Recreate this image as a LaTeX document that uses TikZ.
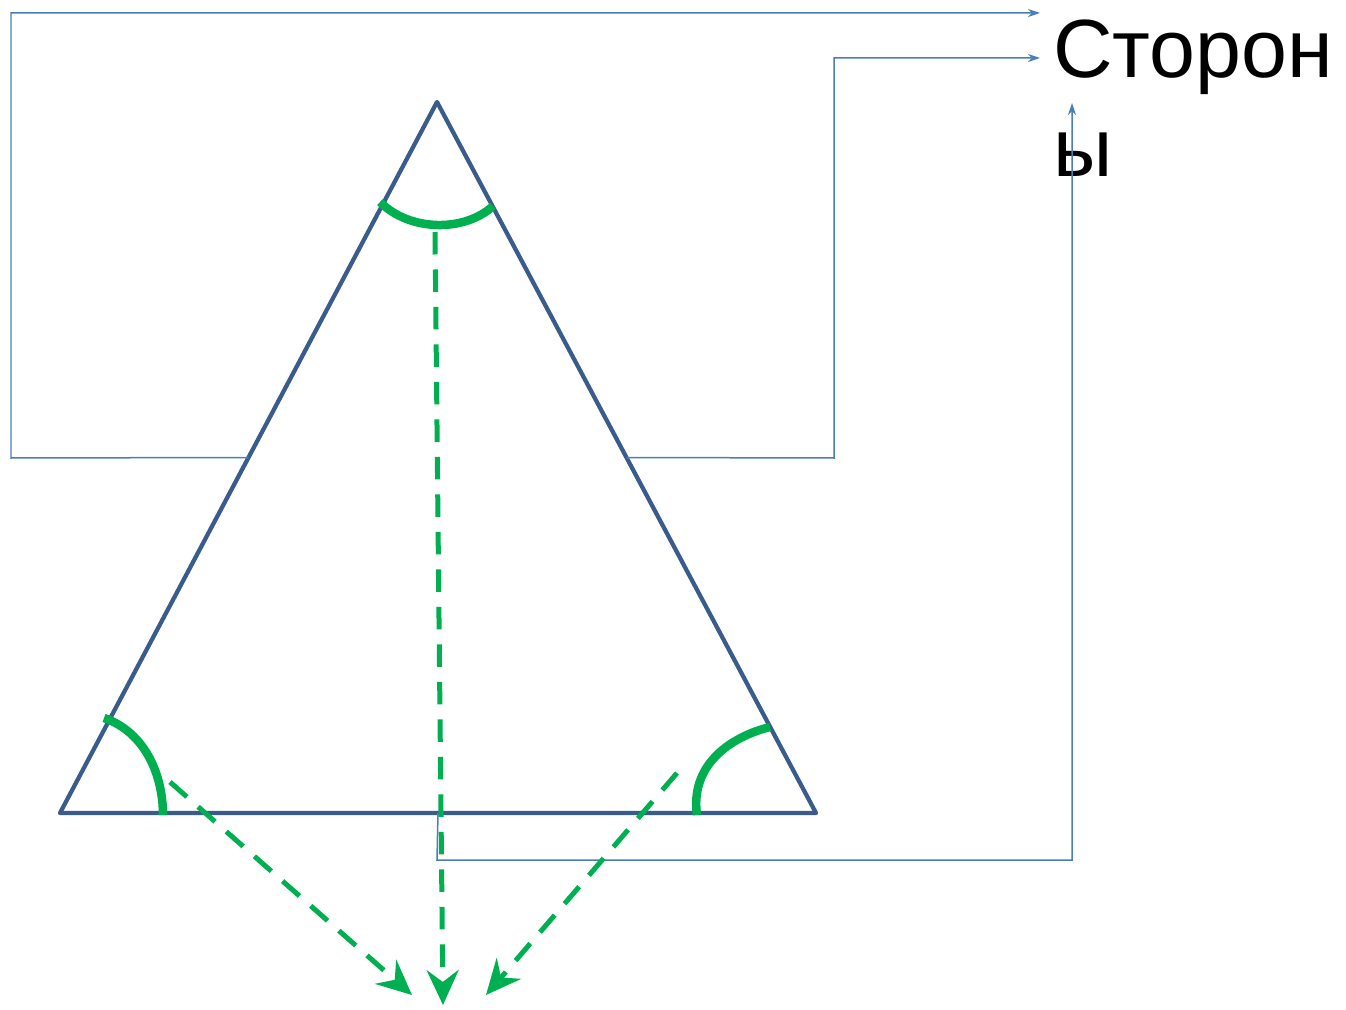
\documentclass[tikz,border=0pt]{standalone}
\usepackage{fontspec}
\setmainfont{Liberation Sans}
\usepackage{tikz}
\usetikzlibrary{positioning,arrows.meta,calc}
\definecolor{triblue}{HTML}{3A5C8C}
\definecolor{linkblue}{HTML}{4A7EBB}
\definecolor{anglegreen}{HTML}{00B050}
\tikzset{
    side/.style={draw=triblue,line width=0.085cm,line join=round},
    anglemark/.style={draw=anglegreen,line width=0.17cm},
    pointer/.style={draw=anglegreen,line width=0.1cm,dash pattern=on 0.45cm off 0.3cm,
        -{Stealth[length=0.7cm,width=0.64cm,inset=0.24cm]}},
    link/.style={draw=linkblue,line width=0.03cm,-{Stealth[length=0.24cm,width=0.16cm]}},
    word/.style={inner sep=0pt,font=\fontsize{47}{53}\selectfont},
}

\begin{document}
\begin{tikzpicture}[x=0.02cm,y=-0.02cm]
    \useasboundingbox (0,0) rectangle (1346,1010);

    % triangle
    \coordinate (top) at (437,102);
    \coordinate (bl) at (60,813);
    \coordinate (br) at (816,813);
    \draw[side] (top) -- (bl) -- (br) -- cycle;

    \coordinate (ml) at ($(top)!0.5!(bl)$);
    \coordinate (mr) at ($(top)!0.5!(br)$);
    \coordinate (mb) at ($(bl)!0.5!(br)$);

    % label
    \node[word,anchor=base west] (line1) at (1053,78) {Сторон};
    \node[word,anchor=base west] (line2) at (1053,177) {ы};
    \coordinate (in1) at (1040,13);
    \coordinate (in2) at (1040,58);
    \coordinate (in3) at (1072,103);

    % connectors to the label
    \draw[link] (ml) -- (11,458) |- (in1);
    \draw[link] (mr) -- (834,458) |- (in2);
    \draw[link] (mb) -- (437,860) -| (in3);

    % angle marks
    \draw[anglemark] (380,202) .. controls (410,232) and (465,232) .. (493,206);
    \draw[anglemark] (104,718) .. controls (145,732) and (163,775) .. (163,815);
    \draw[anglemark] (697,815) .. controls (690,765) and (730,737) .. (770,727);

    % arrows from the angles
    \coordinate (tipl) at (412,995);
    \coordinate (tipm) at (443,1005);
    \coordinate (tipr) at (486,995);
    \draw[pointer] (435,232) -- (tipm);
    \draw[pointer] (170,782) -- (tipl);
    \draw[pointer] (677,773) -- (tipr);
\end{tikzpicture}
\end{document}
